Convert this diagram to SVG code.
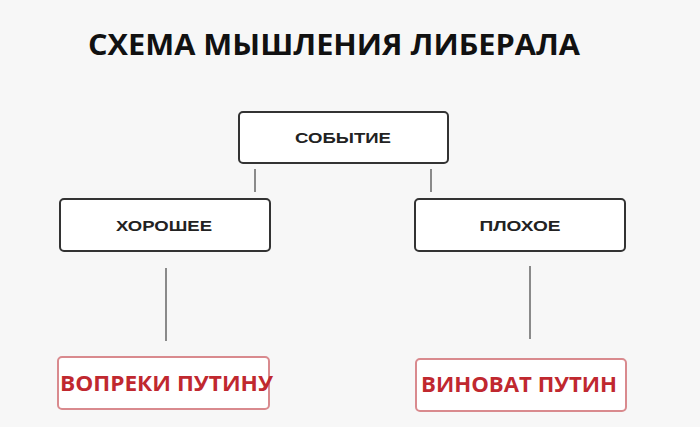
<svg xmlns="http://www.w3.org/2000/svg" width="700" height="427" viewBox="0 0 700 427">
<style>
.box{fill:#fff;stroke:#333;stroke-width:2}
.rbox{fill:#fff;stroke:#d98a8e;stroke-width:2}
.lbl{font-family:"Liberation Sans",Arial,sans-serif;font-weight:bold;font-size:14px;fill:#222;text-anchor:middle}
.red{font-family:"Open Sans","Liberation Sans",sans-serif;font-weight:bold;font-size:21px;fill:#c0282f}
.ln{stroke:#666;stroke-width:1.5}
</style>
<rect width="700" height="427" fill="#f7f7f7"/>
<text x="334" y="55" font-family="Open Sans, Liberation Sans, sans-serif" font-weight="bold" font-size="29" fill="#111" text-anchor="middle" textLength="492" lengthAdjust="spacingAndGlyphs">СХЕМА МЫШЛЕНИЯ ЛИБЕРАЛА</text>
<g id="connectors">
<line class="ln" x1="255" y1="169" x2="255" y2="192"/>
<line class="ln" x1="431" y1="169" x2="431" y2="192"/>
<line class="ln" x1="166" y1="268" x2="166" y2="341"/>
<line class="ln" x1="530" y1="266" x2="530" y2="339"/>
</g>
<g id="n-event"><rect class="box" x="239" y="112" width="209" height="51" rx="4"/><text class="lbl" x="343" y="143" textLength="96" lengthAdjust="spacingAndGlyphs">СОБЫТИЕ</text></g>
<g id="n-good"><rect class="box" x="60" y="199" width="210" height="52" rx="4"/><text class="lbl" x="164" y="231" textLength="96" lengthAdjust="spacingAndGlyphs">ХОРОШЕЕ</text></g>
<g id="n-bad"><rect class="box" x="415" y="199" width="210" height="52" rx="4"/><text class="lbl" x="520" y="231" textLength="81" lengthAdjust="spacingAndGlyphs">ПЛОХОЕ</text></g>
<g id="n-despite"><rect class="rbox" x="58" y="357" width="211" height="52" rx="4"/><text class="red" x="60" y="391" textLength="213" lengthAdjust="spacingAndGlyphs">ВОПРЕКИ ПУТИНУ</text></g>
<g id="n-guilty"><rect class="rbox" x="416" y="359" width="210" height="52" rx="4"/><text class="red" x="421" y="392" textLength="196" lengthAdjust="spacingAndGlyphs">ВИНОВАТ ПУТИН</text></g>
</svg>
